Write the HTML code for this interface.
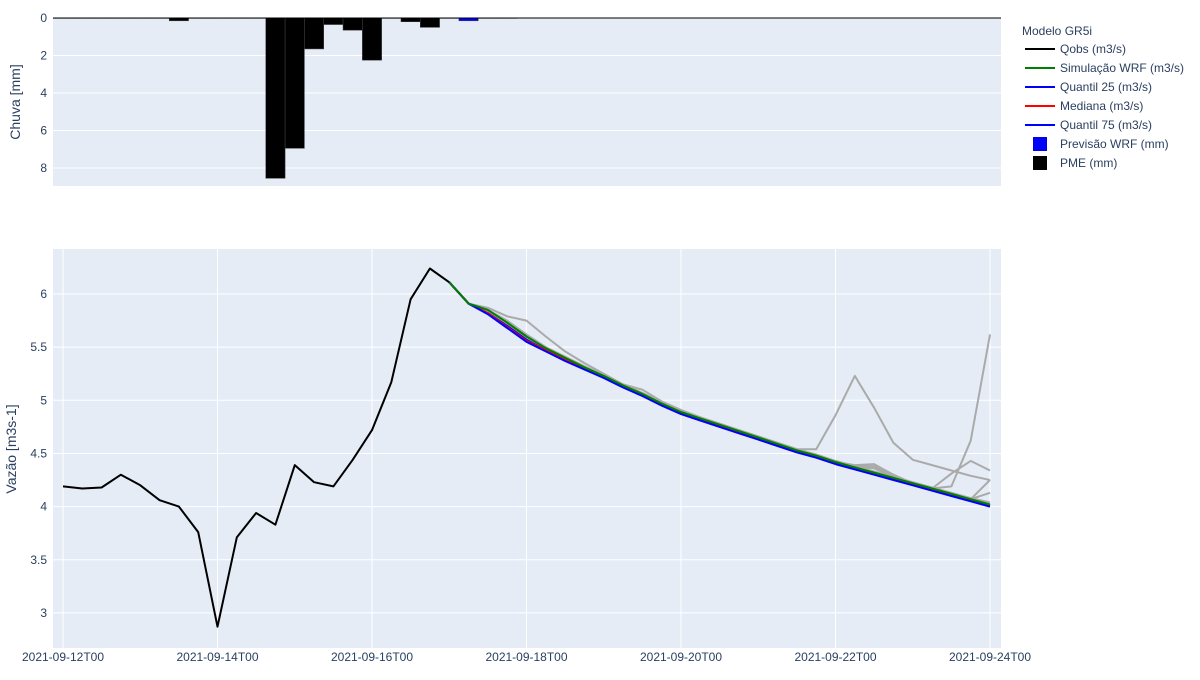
<!DOCTYPE html>
<html><head><meta charset="utf-8"><style>
body{margin:0;background:#fff;font-family:"Liberation Sans",sans-serif}
svg text{font-family:"Liberation Sans",sans-serif;fill:#2a3f5f;font-size:12px}
</style></head><body>
<svg id="c" width="1200" height="675" xmlns="http://www.w3.org/2000/svg"></svg>
<script>
const xTickLabels=["2021-09-12T00","2021-09-14T00","2021-09-16T00","2021-09-18T00","2021-09-20T00","2021-09-22T00","2021-09-24T00"];
const rainIdx=[0,1,2,3,4,5,6,7,8,9,10,11,12,13,14,15,16,17,18,19,20];
const rainPME=[0.02,0.02,0.02,0.02,0.02,0.02,0.15,0.02,0.02,0.02,0.02,8.55,6.95,1.65,0.35,0.65,2.25,0.02,0.2,0.5,0.02];
const rainWRFIdx=[21,22,23,24,25,26];
const rainWRF=[0.15,0.02,0.02,0.01,0.01,0.01];
const qobs=[4.19,4.17,4.18,4.30,4.20,4.06,4.00,3.76,2.87,3.71,3.94,3.83,4.39,4.23,4.19,4.44,4.72,5.17,5.95,6.24,6.11];
const fcStart=20;
const simWRF=[6.11,5.91,5.85,5.73,5.60,5.49,5.40,5.31,5.23,5.14,5.06,4.97,4.89,4.83,4.77,4.71,4.65,4.59,4.53,4.48,4.42,4.37,4.32,4.27,4.22,4.17,4.12,4.07,4.02];
const q25=[6.11,5.91,5.81,5.68,5.55,5.46,5.37,5.29,5.21,5.12,5.04,4.95,4.87,4.81,4.75,4.69,4.63,4.57,4.51,4.46,4.40,4.35,4.30,4.25,4.20,4.15,4.10,4.05,4.00];
const median=[6.11,5.91,5.82,5.69,5.56,5.47,5.38,5.30,5.22,5.13,5.05,4.96,4.88,4.82,4.76,4.70,4.64,4.58,4.52,4.47,4.41,4.36,4.31,4.26,4.21,4.16,4.11,4.06,4.01];
const q75=[6.11,5.91,5.82,5.70,5.57,5.47,5.38,5.30,5.22,5.13,5.05,4.96,4.88,4.82,4.76,4.70,4.64,4.58,4.52,4.47,4.41,4.36,4.31,4.26,4.21,4.16,4.11,4.06,4.01];
const memA=[6.11,5.91,5.87,5.79,5.75,5.60,5.46,5.35,5.25,5.15,5.07,4.98,4.90,4.84,4.78,4.72,4.66,4.60,4.54,4.49,4.43,4.38,4.33,4.28,4.23,4.18,4.13,4.08,4.04];
const memB=[6.11,5.91,5.85,5.75,5.62,5.50,5.41,5.32,5.24,5.15,5.10,4.99,4.91,4.84,4.78,4.72,4.66,4.60,4.54,4.54,4.86,5.23,4.93,4.60,4.44,4.39,4.34,4.29,4.25];
const memC=[6.11,5.91,5.84,5.72,5.59,5.48,5.39,5.31,5.23,5.14,5.06,4.97,4.89,4.83,4.77,4.71,4.65,4.59,4.53,4.48,4.42,4.37,4.32,4.27,4.22,4.17,4.19,4.62,5.62];
const memD=[6.11,5.91,5.84,5.72,5.59,5.48,5.39,5.31,5.23,5.14,5.06,4.97,4.89,4.83,4.77,4.71,4.65,4.59,4.53,4.48,4.42,4.39,4.40,4.30,4.22,4.17,4.31,4.43,4.34];
const memE=[6.11,5.91,5.84,5.72,5.59,5.48,5.39,5.31,5.23,5.14,5.06,4.97,4.89,4.83,4.77,4.71,4.65,4.59,4.53,4.48,4.42,4.38,4.38,4.28,4.22,4.17,4.13,4.07,4.25];
const memF=[6.11,5.91,5.84,5.72,5.59,5.48,5.39,5.31,5.23,5.14,5.06,4.97,4.89,4.83,4.77,4.71,4.65,4.59,4.53,4.48,4.42,4.37,4.36,4.28,4.22,4.17,4.12,4.07,4.13];
const members=[memA,memB,memC,memD,memE,memF];

const NS="http://www.w3.org/2000/svg",svg=document.getElementById('c');
function mk(t,a,p){const e=document.createElementNS(NS,t);for(const k in a)e.setAttribute(k,a[k]);(p||svg).appendChild(e);return e;}
const X0=53,X1=1001;
const xs=i=>63+i*(990-63)/48;
const yTop=v=>18+v*18.75;
const yBot=v=>294+(6-v)*106.3;
let e=mk('rect',{x:X0,y:18,width:X1-X0,height:168,fill:'#e5ecf6'});


e=mk('rect',{x:X0,y:249,width:X1-X0,height:399,fill:'#e5ecf6'});


[0,2,4,6,8].forEach(v=>{mk('line',{x1:X0,x2:X1,y1:yTop(v),y2:yTop(v),stroke:'#fff','stroke-width':1});
 const t=mk('text',{x:47,y:yTop(v)+4,'text-anchor':'end'});t.textContent=v;
 
 });
xTickLabels.forEach((l,i)=>{const x=xs(i*8);mk('line',{x1:x,x2:x,y1:249,y2:648,stroke:'#fff','stroke-width':1});
 const t=mk('text',{x:x,y:661,'text-anchor':'middle'});t.textContent=l;
 
 });
[3,3.5,4,4.5,5,5.5,6].forEach(v=>{mk('line',{x1:X0,x2:X1,y1:yBot(v),y2:yBot(v),stroke:'#fff','stroke-width':1});
 const t=mk('text',{x:47,y:yBot(v)+4,'text-anchor':'end'});t.textContent=v;
 
 });
const bw=(990-63)/48;
rainIdx.forEach((ix,k)=>{const b=mk('rect',{x:xs(ix)-bw/2,y:yTop(0),width:bw,height:rainPME[k]*18.75,fill:'#000',stroke:'#444','stroke-width':0.5});
 
 });
rainWRFIdx.forEach((ix,k)=>{const b=mk('rect',{x:xs(ix)-bw/2,y:yTop(0),width:bw,height:rainWRF[k]*18.75,fill:'#0000ff',stroke:'#444','stroke-width':0.5});
 
 });
mk('line',{x1:X0,x2:X1,y1:18,y2:18,stroke:'#000','stroke-width':1});
function line(arr,start,col,w,name){const p=arr.map((v,i)=>xs(start+i).toFixed(1)+','+yBot(v).toFixed(1)).join(' ');
 const l=mk('polyline',{points:p,fill:'none',stroke:col,'stroke-width':w,'stroke-linejoin':'round'});
 
 }
members.forEach(m=>line(m,fcStart,'#aaaaaa',2,'ensemble-member-line'));
line(q75,fcStart,'#0000ff',2,'quantil-75-line');
line(median,fcStart,'#ff0000',2,'mediana-line');
line(q25,fcStart,'#0000ff',2,'quantil-25-line');
line(simWRF,fcStart,'#008000',2,'simulacao-wrf-line');
line(qobs,0,'#000000',2,'qobs-line');
let t=mk('text',{x:0,y:0,transform:'translate(20,102) rotate(-90)','text-anchor':'middle'});t.textContent='Chuva [mm]';t.style.fontSize='14px';


t=mk('text',{x:0,y:0,transform:'translate(16,449) rotate(-90)','text-anchor':'middle'});t.textContent='Vazão [m3s-1]';t.style.fontSize='14px';


t=mk('text',{x:1022,y:35});t.textContent='Modelo GR5i';


const leg=[['Qobs (m3/s)','#000','l'],['Simulação WRF (m3/s)','#008000','l'],['Quantil 25 (m3/s)','#0000ff','l'],['Mediana (m3/s)','#ff0000','l'],['Quantil 75 (m3/s)','#0000ff','l'],['Previsão WRF (mm)','#0000ff','s'],['PME (mm)','#000','s']];
leg.forEach((d,i)=>{const y=49+i*19;const g=mk('g',{});
 
 
 if(d[2]=='l')mk('line',{x1:1025,x2:1055,y1:y,y2:y,stroke:d[1],'stroke-width':2},g);
 else mk('rect',{x:1033,y:y-7,width:14,height:14,fill:d[1]},g);
 const tt=mk('text',{x:1060,y:y+4},g);tt.textContent=d[0];});
</script>
</body></html>
